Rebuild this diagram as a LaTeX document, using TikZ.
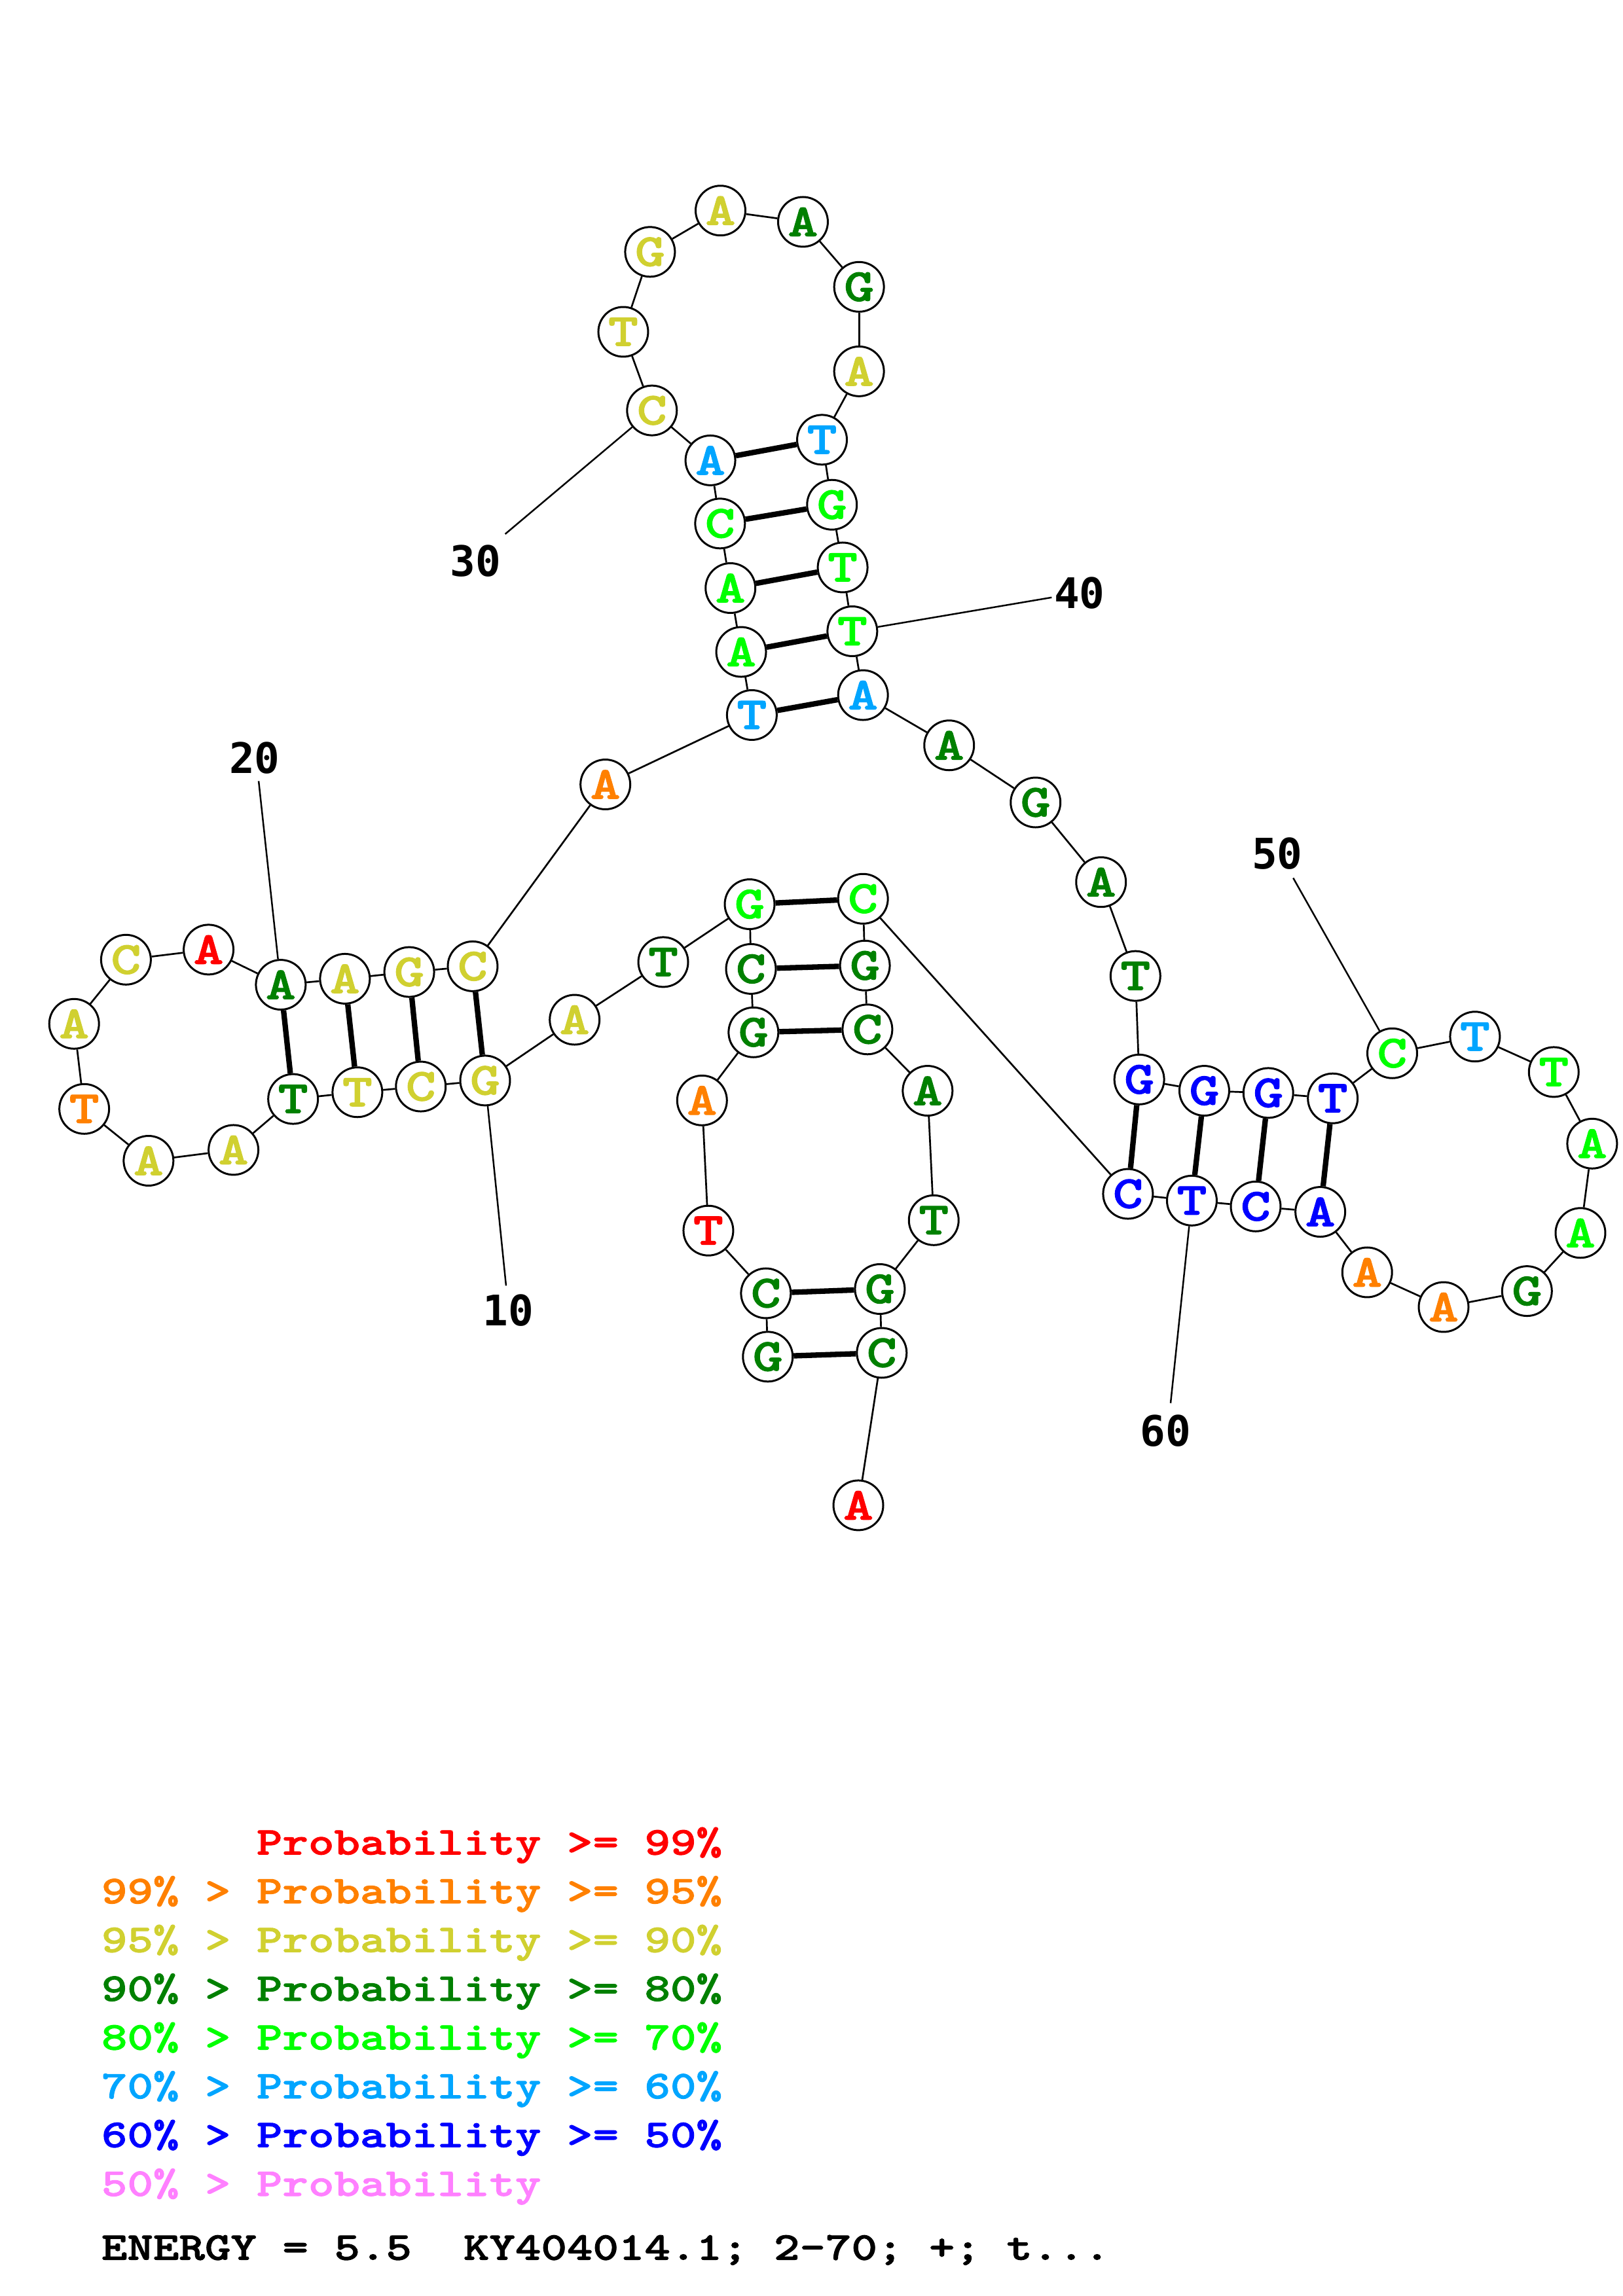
\documentclass[tikz,border=0pt]{standalone}
\usepackage{fontspec}
\newfontfamily\nucfont[FakeStretch=1.25,FakeBold=1.6]{lmmonolt10-bold.otf}
\newfontfamily\numfont{DejaVu Sans Mono}
\definecolor{cr}{RGB}{255,0,0}
\definecolor{co}{RGB}{255,128,0}
\definecolor{cy}{RGB}{208,208,48}
\definecolor{cd}{RGB}{0,128,0}
\definecolor{cg}{RGB}{0,255,0}
\definecolor{cc}{RGB}{0,165,255}
\definecolor{cb}{RGB}{0,0,255}
\definecolor{cp}{RGB}{255,128,255}
\frenchspacing
\begin{document}
\begin{tikzpicture}[x=0.18943mm,y=-0.18943mm,
  nuc/.style={circle,draw=black,line width=0.72pt,fill=white,minimum size=18.3pt,inner sep=0pt,
    font={\nucfont\fontsize{16.9}{18}\selectfont}},
  bb/.style={line width=0.65pt,draw=black},
  pairbond/.style={line width=2pt,draw=black},
  lead/.style={line width=0.6pt,draw=black},
  numlab/.style={font={\numfont\bfseries\fontsize{15.5}{17}\selectfont},inner sep=0pt},
  leg/.style={font={\nucfont\fontsize{14.5}{16}\selectfont},inner sep=0pt,anchor=base west}]
\fill[white] (0,0) rectangle (1108,1568);
\useasboundingbox (0,0) rectangle (1108,1568);
\foreach \i/\l/\col/\x/\y in {
 1/G/cd/524.2/926.5, 2/C/cd/522.9/883.2, 3/T/cr/483.6/840.4, 4/A/co/479.3/751.5,
 5/G/cd/514.4/705.0, 6/C/cd/512.7/661.7, 7/G/cg/511.8/617.5, 8/T/cd/452.8/657.0,
 9/A/cy/392.3/696.4, 10/G/cy/331.2/737.9, 11/C/cy/287.3/742.0, 12/T/cy/244.0/745.9,
 13/T/cd/200.1/750.5, 14/A/cy/159.4/785.3, 15/A/cy/101.4/792.7, 16/T/co/57.5/757.3,
 17/A/cy/50.6/699.2, 18/C/cy/86.0/655.4, 19/A/cr/142.4/648.5, 20/A/cd/191.7/672.5,
 21/A/cy/235.5/668.4, 22/G/cy/279.4/663.8, 23/C/cy/322.7/659.9, 24/A/co/413.3/535.7,
 25/T/cc/513.3/488.3, 26/A/cg/506.0/445.2, 27/A/cg/498.7/401.6, 28/C/cg/491.6/357.5,
 29/A/cc/485.0/314.4, 30/C/cy/445.1/280.3, 31/T/cy/425.5/226.6, 32/G/cy/443.8/172.0,
 33/A/cy/491.9/143.8, 34/A/cd/548.2/151.5, 35/G/cd/586.5/195.9, 36/A/cy/586.5/253.6,
 37/T/cc/561.2/300.3, 38/G/cg/568.0/344.7, 39/T/cg/575.3/387.5, 40/T/cg/581.9/431.1,
 41/A/cc/589.2/474.7, 42/A/cd/648.0/509.0, 43/G/cd/707.0/548.0, 44/A/cd/751.7/602.4,
 45/T/cd/775.2/666.5, 46/G/cb/777.8/737.2, 47/G/cb/822.2/744.9, 48/G/cb/865.9/746.4,
 49/T/cb/909.9/750.1, 50/C/cg/950.5/719.3, 51/T/cc/1007.0/707.9, 52/T/cg/1060.8/732.1,
 53/A/cg/1087.0/781.0, 54/A/cg/1079.0/842.0, 55/G/cd/1042.5/881.7, 56/A/co/985.6/892.6,
 57/A/co/933.4/868.9, 58/A/cb/901.4/827.6, 59/C/cb/857.3/823.9, 60/T/cb/813.7/819.9,
 61/C/cb/770.1/815.3, 62/C/cg/589.2/613.8, 63/G/cd/590.5/659.4, 64/C/cd/592.2/703.0,
 65/A/cd/633.3/744.9, 66/T/cd/637.5/833.3, 67/G/cd/600.7/880.3, 68/C/cd/602.0/923.9,
 69/A/cr/586.0/1028.0}
 {\node[nuc,text=\col] (n\i) at (\x,\y) {\l};}
\foreach \i [evaluate=\i as \j using int(\i+1)] in {1,...,68}
 {\draw[bb] (n\i) -- (n\j);}
\foreach \a/\b in {1/68,2/67,5/64,6/63,7/62,10/23,11/22,12/21,13/20,25/41,26/40,27/39,28/38,29/37,46/61,47/60,48/59,49/58}
 {\draw[pairbond] (n\a) -- (n\b);}
% position labels
\node[numlab] (l10) at (347,895) {10};
\node[numlab] (l20) at (173.8,517.4) {20};
\node[numlab] (l30) at (324.7,383.2) {30};
\node[numlab] (l40) at (737,405) {40};
\node[numlab] (l50) at (872,583) {50};
\node[numlab] (l60) at (795.8,977.3) {60};
\coordinate (e10) at (345.5,878);
\coordinate (e20) at (176.6,533.4);
\coordinate (e30) at (344.9,364.7);
\coordinate (e40) at (718,408);
\coordinate (e50) at (882.9,599.6);
\coordinate (e60) at (799.2,958.2);
\foreach \k in {10,20,30,40,50,60} {\draw[lead] (e\k) -- (n\k);}
% legend
\node[leg,text=cr] (g1) at (68.9,1266.5) {\phantom{99\%\ >\ }Probability >= 99\%};
\node[leg,text=co] (g2) at (68.9,1299.8) {99\% > Probability >= 95\%};
\node[leg,text=cy] (g3) at (68.9,1333.1) {95\% > Probability >= 90\%};
\node[leg,text=cd] (g4) at (68.9,1366.4) {90\% > Probability >= 80\%};
\node[leg,text=cg] (g5) at (68.9,1399.7) {80\% > Probability >= 70\%};
\node[leg,text=cc] (g6) at (68.9,1433.0) {70\% > Probability >= 60\%};
\node[leg,text=cb] (g7) at (68.9,1466.3) {60\% > Probability >= 50\%};
\node[leg,text=cp] (g8) at (68.9,1499.6) {50\% > Probability};
\node[leg,text=black] (g9) at (68.9,1543.2) {ENERGY = 5.5\ \ KY404014.1; 2-70; +; t...};
\end{tikzpicture}
\end{document}
